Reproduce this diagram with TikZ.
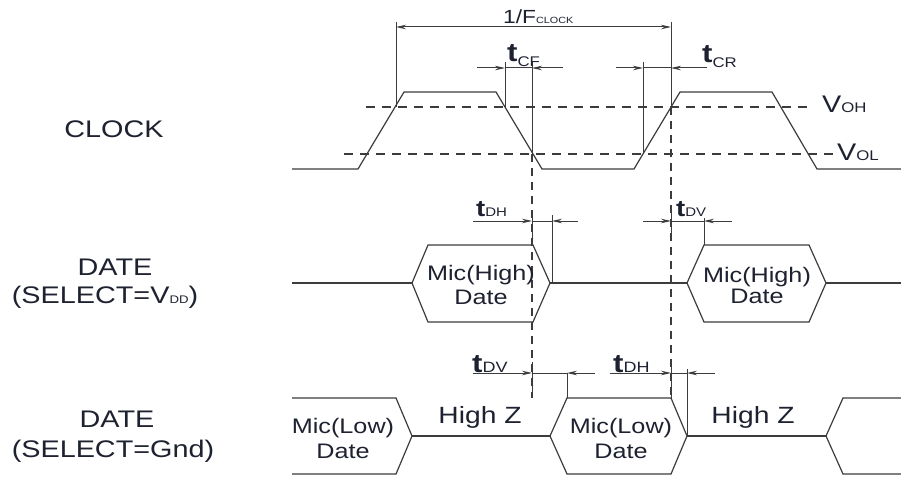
\documentclass[tikz,border=0pt]{standalone}
\usepackage{fontspec}
\setmainfont{Liberation Sans}
\usepackage{graphicx}
\usetikzlibrary{arrows.meta}
\definecolor{ln}{HTML}{3C3C3C}
\definecolor{tx}{HTML}{1E2130}
\newcommand{\sx}[1]{\scalebox{1.2}[1]{#1}}
\newcommand{\fs}[1]{\fontsize{#1}{#1}\selectfont}
\newcommand{\tsym}[4]{\sx{{\fs{#1}\bfseries t}\raisebox{-#4pt}{\fs{#2}#3}}}
\tikzset{
 wave/.style={draw=ln, line width=1.2pt, line join=miter},
 thr/.style={draw=ln, line width=1.1pt, dash pattern=on 9pt off 7pt},
 vdash/.style={draw=ln, line width=1.1pt, dash pattern=on 8pt off 6pt},
 dim/.style={draw=ln, line width=1pt},
 arr/.style={dim, -{Stealth[length=10pt,width=4.5pt]}},
 txt/.style={text=tx, inner sep=0pt, anchor=base},
 big/.style={txt, font=\fs{24}},
 mic/.style={txt, font=\fs{21}},
 tlab/.style={txt, anchor=base west},
}
\begin{document}
\begin{tikzpicture}[x=1pt,y=-1pt]
\fill[white] (0,0) rectangle (901,476);
\useasboundingbox (0,0) rectangle (901,476);
% clock
\draw[wave] (292,169) -- (358,169) -- (404,92) -- (496,92) -- (542,169) -- (634,169) -- (680,92) -- (772,92) -- (817,169) -- (901,169);
\draw[thr] (366,107) -- (810,107);
\draw[thr] (344,154) -- (833,154);
% 1/F
\draw[dim] (396,22) -- (396,107);
\draw[dim] (671,22) -- (671,107);
\draw[arr] (534,27) -- (396,27);
\draw[arr] (534,27) -- (671,27);
% tCF
\draw[dim] (505,62) -- (505,107);
\draw[dim] (532,62) -- (532,154);
\draw[arr] (477,68) -- (505,68);
\draw[dim] (505,68) -- (532,68);
\draw[arr] (563,68) -- (532,68);
% tCR
\draw[dim] (643,62) -- (643,154);
\draw[arr] (616,68) -- (643,68);
\draw[dim] (643,68) -- (671,68);
\draw[arr] (707,68) -- (671,68);
% dashed verticals
\draw[vdash] (532,154) -- (532,398);
\draw[vdash] (671,107) -- (671,398);
\draw[dim] (532,211) -- (532,245);
\draw[dim] (532,362) -- (532,398);
\draw[dim] (671,209) -- (671,233);
\draw[dim] (671,363) -- (671,398);
% upper data row
\draw[wave] (292,283) -- (412,283);
\draw[wave] (412,283) -- (428,245) -- (533,245) -- (550,283) -- (533,322) -- (428,322) -- cycle;
\draw[wave] (550,283) -- (687,283);
\draw[wave] (687,283) -- (704,245) -- (809,245) -- (826,283) -- (809,322) -- (704,322) -- cycle;
\draw[wave] (826,283) -- (901,283);
% tDH upper
\draw[dim] (552,215) -- (552,283);
\draw[arr] (473,221) -- (532,221);
\draw[dim] (532,221) -- (552,221);
\draw[arr] (578,221) -- (552,221);
% tDV upper
\draw[dim] (704,218) -- (704,245);
\draw[arr] (643,221) -- (671,221);
\draw[dim] (671,221) -- (704,221);
\draw[arr] (732,221) -- (704,221);
% lower data row
\draw[wave] (292,398) -- (396,398) -- (412,436) -- (396,474) -- (292,474);
\draw[wave] (412,436) -- (550,436);
\draw[wave] (550,436) -- (567,398) -- (671,398) -- (687,436) -- (671,474) -- (567,474) -- cycle;
\draw[wave] (687,436) -- (826,436);
\draw[wave] (901,398) -- (843,398) -- (826,436) -- (843,474) -- (901,474);
% tDV lower
\draw[dim] (567,373) -- (567,398);
\draw[arr] (473,373) -- (532,373);
\draw[dim] (532,373) -- (567,373);
\draw[arr] (595,373) -- (567,373);
% tDH lower
\draw[dim] (687,369) -- (687,436);
\draw[arr] (610,373) -- (671,373);
\draw[dim] (671,373) -- (687,373);
\draw[arr] (715,373) -- (687,373);
% left labels
\node[big] (lclk) at (114,137) {\sx{CLOCK}};
\node[big] (ld1) at (115,275) {\sx{DATE}};
\node[big] (ls1) at (105,303) {\sx{(SELECT=V{\fs{11}DD})}};
\node[big] (ld2) at (117,427) {\sx{DATE}};
\node[big] (ls2) at (113,457) {\sx{(SELECT=Gnd)}};
% hexagon texts
\node[mic] (h1a) at (481,280) {\sx{Mic(High)}};
\node[mic] (h1b) at (481,304) {\sx{Date}};
\node[mic] (h2a) at (757,282) {\sx{Mic(High)}};
\node[mic] (h2b) at (757,303) {\sx{Date}};
\node[mic] (l0a) at (343,433) {\sx{Mic(Low)}};
\node[mic] (l0b) at (343,458) {\sx{Date}};
\node[mic] (l1a) at (621,433) {\sx{Mic(Low)}};
\node[mic] (l1b) at (621,458) {\sx{Date}};
\node[txt, font=\fs{23.5}] (hz1) at (480,423) {\sx{High Z}};
\node[txt, font=\fs{23.5}] (hz2) at (753,423) {\sx{High Z}};
% levels
\node[tlab] (voh) at (822,113) {\sx{{\fs{24}V}{\fs{14}OH}}};
\node[tlab] (vol) at (837,160) {\sx{{\fs{24}V}{\fs{14}OL}}};
\node[tlab] (fclk) at (503,24) {\sx{{\fs{19}1/F}{\fs{9}CLOCK}}};
% timing labels
\node[tlab] (tcf) at (507,62) {\tsym{26}{14}{CF}{5}};
\node[tlab] (tcr) at (702,63) {\tsym{26}{14}{CR}{5}};
\node[tlab] (tdh1) at (476,216) {\tsym{23}{12.5}{DH}{0}};
\node[tlab] (tdv1) at (676,216) {\tsym{23}{12.5}{DV}{0}};
\node[tlab] (tdv2) at (472,372) {\tsym{26}{15}{DV}{0}};
\node[tlab] (tdh2) at (613,372) {\tsym{26}{15}{DH}{0}};
\end{tikzpicture}
\end{document}
